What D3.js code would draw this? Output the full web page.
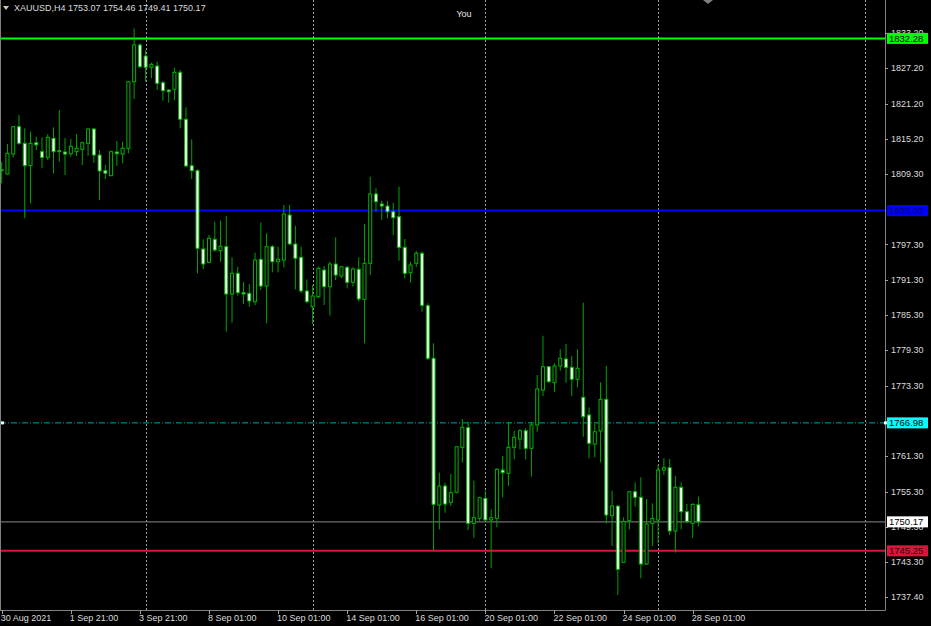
<!DOCTYPE html>
<html><head><meta charset="utf-8">
<script src="https://cdn.jsdelivr.net/npm/d3@7"></script>
<style>html,body{margin:0;padding:0;background:#000;overflow:hidden}</style>
</head><body>
<svg id="c" width="931" height="626"></svg>
<script>
// ---- DATA ----
const symbol = "XAUUSD,H4";
const opens = [1809.95,1809.25,1812.64,1817.28,1814.46,1810.66,1814.55,1813.04,1812.08,1815.31,
1813.20,1812.98,1812.68,1813.04,1813.44,1814.46,1816.89,1812.47,1809.81,1808.96,
1812.98,1812.64,1813.61,1824.92,1831.16,1829.29,1827.37,1827.59,1824.75,1823.51,
1823.63,1826.52,1818.54,1810.66,1809.81,1796.51,1794.25,1798.16,1796.22,1796.90,
1788.87,1792.38,1789.09,1788.98,1787.56,1794.76,1790.22,1796.90,1794.35,1794.64,
1802.28,1797.36,1795.10,1789.38,1786.71,1788.41,1792.94,1790.11,1793.96,1791.92,
1793.40,1790.85,1793.06,1787.96,1794.08,1805.85,1804.15,1803.81,1802.84,1801.99,
1796.80,1792.48,1794.08,1795.78,1786.88,1777.95,1753.03,1756.26,1753.49,1755.19,
1762.83,1766.16,1749.92,1750.77,1754.17,1750.49,1750.77,1758.97,1758.41,1762.83,
1764.24,1765.65,1762.66,1766.62,1772.56,1776.52,1773.80,1776.64,1777.83,1776.42,
1774.38,1771.32,1768.32,1763.39,1765.60,1770.98,1751.21,1752.86,1743.30,1750.38,
1755.29,1754.34,1743.01,1749.92,1750.49,1758.97,1759.37,1748.62,1756.04,1751.89,
1749.92,1753.07];
const highs = [1811.34,1814.34,1817.40,1819.27,1817.01,1816.43,1815.58,1815.48,1816.04,1817.18,
1820.12,1815.36,1815.19,1816.04,1814.73,1817.01,1817.06,1813.32,1810.78,1813.21,
1814.85,1814.73,1825.04,1833.99,1831.45,1830.31,1828.15,1828.32,1825.09,1823.63,
1827.30,1826.91,1820.58,1815.14,1810.05,1798.16,1798.89,1801.15,1801.32,1802.12,
1795.10,1793.47,1790.93,1790.54,1795.88,1800.98,1799.17,1797.19,1796.90,1803.98,
1803.98,1800.44,1796.90,1791.34,1790.39,1793.50,1793.62,1794.35,1798.50,1793.62,
1793.62,1793.40,1795.10,1800.76,1808.79,1806.82,1804.71,1804.66,1804.37,1807.09,
1798.21,1794.35,1796.17,1796.05,1787.29,1780.50,1758.52,1756.82,1758.30,1762.93,
1767.64,1767.18,1757.16,1754.44,1755.46,1752.30,1759.26,1761.35,1767.18,1765.65,
1765.89,1766.06,1767.18,1775.11,1781.78,1776.64,1777.10,1779.48,1780.38,1778.34,
1779.48,1787.39,1769.62,1766.91,1773.87,1776.64,1755.46,1752.86,1750.95,1755.41,
1756.89,1757.74,1754.05,1753.32,1759.83,1760.96,1760.84,1757.96,1756.89,1753.20,
1753.32,1754.46];
const lows = [1807.67,1809.20,1812.08,1814.20,1801.72,1804.27,1813.32,1810.22,1811.63,1809.37,
1811.34,1809.08,1812.19,1812.30,1810.78,1812.36,1811.12,1804.83,1808.40,1808.91,
1810.61,1811.07,1812.76,1821.99,1827.20,1824.92,1825.50,1823.51,1821.70,1821.36,
1821.82,1817.01,1810.49,1808.40,1792.38,1793.11,1794.08,1796.05,1794.35,1782.47,
1783.99,1788.58,1787.17,1786.71,1787.00,1789.54,1783.89,1792.55,1792.55,1793.40,
1797.19,1789.66,1788.99,1787.29,1783.77,1788.14,1787.00,1785.19,1791.24,1791.53,
1789.83,1790.11,1787.56,1780.50,1792.09,1802.84,1801.44,1801.72,1798.89,1794.52,
1791.53,1790.79,1793.47,1785.86,1777.66,1745.25,1748.90,1751.72,1752.86,1755.02,
1760.22,1748.78,1747.48,1750.36,1750.21,1742.28,1749.24,1754.34,1756.26,1760.79,
1762.49,1760.79,1757.84,1765.48,1771.54,1773.80,1772.27,1775.84,1773.80,1771.54,
1773.02,1764.63,1760.96,1761.13,1760.28,1749.92,1746.07,1737.75,1743.23,1748.90,
1752.74,1740.58,1742.84,1746.07,1746.53,1758.13,1747.94,1744.93,1748.90,1749.92,
1747.38,1749.41];
const closes = [1809.90,1812.76,1817.28,1814.46,1810.66,1814.46,1814.20,1812.08,1815.48,1813.04,
1813.10,1812.64,1813.95,1813.61,1814.56,1816.89,1812.47,1809.76,1809.37,1813.04,
1812.70,1813.61,1824.92,1831.16,1827.47,1827.37,1827.88,1824.65,1823.40,1823.23,
1826.52,1818.54,1810.61,1809.81,1796.63,1793.96,1798.33,1796.34,1796.97,1788.87,
1792.38,1789.09,1788.87,1787.68,1794.64,1790.22,1796.90,1794.35,1794.76,1802.45,
1797.36,1794.93,1789.38,1787.56,1788.53,1793.23,1790.11,1793.96,1792.09,1793.50,
1790.85,1793.11,1788.02,1794.08,1805.85,1804.54,1803.81,1802.84,1801.82,1796.80,
1792.38,1793.79,1795.78,1786.95,1777.95,1753.15,1756.26,1753.20,1755.12,1762.93,
1766.23,1749.92,1750.87,1754.27,1750.49,1750.87,1759.09,1758.52,1762.83,1764.53,
1765.65,1762.66,1766.62,1772.73,1776.52,1773.97,1776.64,1777.95,1776.42,1774.38,
1776.25,1768.03,1763.51,1765.48,1770.98,1751.33,1752.86,1742.11,1750.21,1755.29,
1754.34,1743.01,1749.81,1750.77,1758.97,1759.37,1748.62,1756.04,1751.89,1750.21,
1753.15,1750.17];
const timeLabels = ["30 Aug 2021","1 Sep 21:00","3 Sep 21:00","8 Sep 01:00","10 Sep 01:00",
  "14 Sep 01:00","16 Sep 01:00","20 Sep 01:00","22 Sep 01:00","24 Sep 01:00","28 Sep 01:00"];
const timeLabelBars = [0,12,24,36,48,60,72,84,96,108,120];
const gridBars = [25,54,84,114,150];
// ticks fully covered by level labels (1803.30, 1767.30) are not drawn
const priceTicks = [1833.20,1827.20,1821.20,1815.20,1809.30,1797.30,1791.30,1785.30,
  1779.30,1773.30,1761.30,1755.30,1749.30,1743.30,1737.40];
const levelValues = [1832.28, 1803.03, 1766.98, 1750.17, 1745.25];
const chartTitle = "You";

// ---- DRAW ----
const W = 931, H = 626, plotR = 885, plotB = 610;
const svg = d3.select("#c");
svg.append("rect").attr("width",W).attr("height",H).attr("fill","#000");
const x = d3.scaleLinear().domain([0,153.4]).range([1.7, plotR]);
const y = d3.scaleLinear().domain([1735.20, 1838.80]).range([plotB, 0]);
const font = "'Liberation Sans', Arial, sans-serif";
const txtCol = "#dcdcdc";

svg.append("defs").append("clipPath").attr("id","clip")
  .append("rect").attr("x",1).attr("y",0).attr("width",plotR-1).attr("height",plotB);

// grid
svg.append("g").selectAll("line").data(gridBars).join("line")
  .attr("x1",d=>Math.round(x(d))+0.5).attr("x2",d=>Math.round(x(d))+0.5)
  .attr("y1",0).attr("y2",plotB)
  .attr("stroke","#a0a0a0").attr("stroke-width",1).attr("stroke-dasharray","2,2");

// level lines
const lv = svg.append("g").attr("clip-path","url(#clip)");
const lvStyle = [
  {stroke:"#00ff00", w:2, dash:null},
  {stroke:"#0000ff", w:2, dash:null},
  {stroke:"#00a0a0", w:1, dash:"6,2,1,2"},
  {stroke:"#6e6e6e", w:1.3, dash:null},
  {stroke:"#dc143c", w:2, dash:null}
];
levelValues.forEach((v,k)=>{
  lv.append("line").attr("x1",0).attr("x2",plotR).attr("y1",y(v)).attr("y2",y(v))
    .attr("stroke",lvStyle[k].stroke).attr("stroke-width",lvStyle[k].w)
    .attr("stroke-dasharray",lvStyle[k].dash);
});
svg.append("rect").attr("x",1).attr("y",y(levelValues[2])-1.5).attr("width",3).attr("height",3).attr("fill","#e0ffff");

// candles
const idx = d3.range(opens.length);
const cg = svg.append("g").attr("clip-path","url(#clip)");
cg.selectAll("line.w").data(idx).join("line").attr("class","w")
  .attr("x1",i=>x(i)).attr("x2",i=>x(i))
  .attr("y1",i=>y(highs[i])).attr("y2",i=>y(lows[i]))
  .attr("stroke","#00a400").attr("stroke-width",1);
cg.selectAll("rect.b").data(idx).join("rect").attr("class","b")
  .attr("x",i=>x(i)-1.5).attr("width",3)
  .attr("y",i=>y(Math.max(opens[i],closes[i])))
  .attr("height",i=>Math.max(Math.abs(y(opens[i])-y(closes[i])),0.8))
  .attr("fill",i=>closes[i]>=opens[i]?"#000":"#fff")
  .attr("stroke","#00b400").attr("stroke-width",1);

// frame
svg.append("line").attr("x1",0.5).attr("x2",0.5).attr("y1",0).attr("y2",plotB).attr("stroke","#808080");
svg.append("line").attr("x1",plotR+0.5).attr("x2",plotR+0.5).attr("y1",0).attr("y2",plotB+0.5).attr("stroke","#808080");
svg.append("line").attr("x1",0).attr("x2",plotR+0.5).attr("y1",plotB+0.5).attr("y2",plotB+0.5).attr("stroke","#808080");

// price axis ticks
const pa = svg.append("g");
pa.selectAll("line").data(priceTicks).join("line")
  .attr("x1",plotR).attr("x2",plotR+3).attr("y1",d=>Math.round(y(d))+0.5).attr("y2",d=>Math.round(y(d))+0.5)
  .attr("stroke","#a0a0a0");
pa.selectAll("text").data(priceTicks).join("text")
  .attr("x",plotR+6).attr("y",d=>y(d)).attr("dy","0.35em")
  .attr("fill",txtCol).attr("font-family",font).attr("font-size","9px")
  .text(d=>d.toFixed(2));

// level labels on axis
const lblStyle = [
  {bg:"#00ff00", fg:"#000"},
  {bg:"#0000ff", fg:"#000070"},
  {bg:"#00ffff", fg:"#000"},
  {bg:"#ffffff", fg:"#000"},
  {bg:"#dc143c", fg:"#300000"}
];
levelValues.forEach((v,k)=>{
  const yy = y(v);
  svg.append("rect").attr("x",plotR+2).attr("y",yy-5.5).attr("width",41).attr("height",11)
    .attr("fill",lblStyle[k].bg);
  svg.append("text").attr("x",plotR+4).attr("y",yy).attr("dy","0.36em")
    .attr("fill",lblStyle[k].fg).attr("font-family",font).attr("font-size","9.5px")
    .text(v.toFixed(2));
});
svg.append("rect").attr("x",plotR-1).attr("y",y(levelValues[2])-1.5).attr("width",3).attr("height",3).attr("fill","#ffffff");

// time axis
const ta = svg.append("g");
ta.selectAll("line").data(timeLabelBars).join("line")
  .attr("x1",d=>Math.round(x(d))+0.5).attr("x2",d=>Math.round(x(d))+0.5)
  .attr("y1",plotB).attr("y2",plotB+4).attr("stroke","#a0a0a0");
ta.selectAll("text").data(timeLabelBars).join("text")
  .attr("x",d=>x(d)-1).attr("y",621)
  .attr("fill",txtCol).attr("font-family",font).attr("font-size","9px")
  .text((d,k)=>timeLabels[k]);

// header
const last = opens.length-1;
svg.append("path").attr("d","M3,6 L9,6 L6,10 Z").attr("fill","#c8c8c8");
svg.append("text").attr("x",14).attr("y",10.5).attr("fill",txtCol)
  .attr("font-family",font).attr("font-size","9px").text(symbol);
svg.append("text").attr("x",68).attr("y",10.5).attr("fill",txtCol)
  .attr("font-family",font).attr("font-size","9px")
  .text([opens[last],highs[last],lows[last],closes[last]].map(v=>v.toFixed(2)).join(" "));
svg.append("text").attr("x",464).attr("y",17).attr("text-anchor","middle").attr("fill","#e8e8e8")
  .attr("font-family",font).attr("font-size","9px").text(chartTitle);
svg.append("path").attr("d","M703,0 L713,0 L708,4 Z").attr("fill","#808080");
</script>
</body></html>
